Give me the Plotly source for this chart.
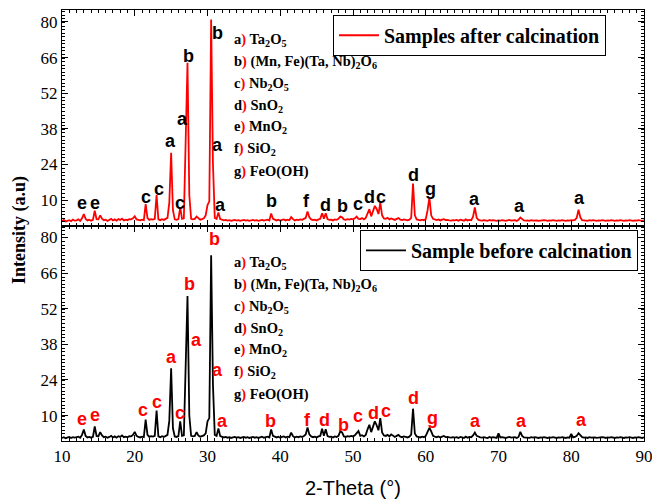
import numpy as np
import plotly.graph_objects as go
from plotly.subplots import make_subplots

# 2-Theta scan positions (step 0.25 deg, 10-90 deg)
two_theta = np.round(np.arange(10.0, 90.0001, 0.25), 2)

# Intensity after calcination, one row per degree (x.00, x.25, x.50, x.75)
after_calcination = [
    1.8, 2.2, 1.6, 2.0,   # 10
    2.1, 1.7, 2.3, 1.9,   # 11
    2.0, 2.4, 1.8, 2.8,   # 12
    4.5, 2.6, 2.0, 2.3,   # 13
    1.9, 2.2, 5.8, 2.5,   # 14
    2.4, 4.0, 2.7, 2.1,   # 15
    2.3, 1.8, 2.2, 2.6,   # 16
    2.0, 2.4, 1.9, 2.5,   # 17
    2.2, 2.7, 2.0, 2.3,   # 18
    2.1, 2.5, 2.4, 2.8,   # 19
    3.6, 2.4, 2.2, 2.0,   # 20
    2.3, 2.1, 8.4, 2.9,   # 21
    2.2, 2.5, 2.3, 2.6,   # 22
    12.0, 2.4, 2.1, 2.5,  # 23
    2.2, 2.6, 3.0, 9.0,   # 24
    28.6, 6.0, 2.4, 2.2,  # 25
    2.5, 7.1, 2.6, 2.8,   # 26
    40.0, 64.0, 12.0, 2.6,  # 27
    2.4, 2.6, 3.5, 2.7,   # 28
    2.3, 2.5, 2.8, 4.0,   # 29
    8.0, 9.5, 81.0, 24.0,  # 30
    3.0, 2.6, 5.1, 2.5,   # 31
    2.3, 2.0, 2.2, 1.9,   # 32
    2.1, 1.8, 2.0, 2.2,   # 33
    1.9, 2.1, 1.8, 2.0,   # 34
    2.2, 1.9, 2.1, 1.8,   # 35
    2.0, 2.2, 1.9, 2.1,   # 36
    1.8, 2.0, 2.2, 1.9,   # 37
    2.1, 2.3, 2.0, 4.7,   # 38
    2.6, 2.2, 2.0, 2.3,   # 39
    1.9, 2.2, 2.4, 2.0,   # 40
    2.3, 2.1, 3.3, 2.5,   # 41
    2.0, 2.3, 2.1, 2.4,   # 42
    2.2, 2.6, 3.0, 5.5,   # 43
    3.2, 2.4, 2.1, 2.3,   # 44
    2.0, 2.4, 2.6, 4.8,   # 45
    2.7, 4.8, 2.5, 2.2,   # 46
    2.3, 2.0, 2.4, 2.2,   # 47
    2.6, 3.5, 3.2, 2.4,   # 48
    2.2, 2.5, 2.3, 2.6,   # 49
    2.4, 2.8, 3.5, 2.6,   # 50
    2.5, 2.9, 2.4, 3.0,   # 51
    5.0, 6.4, 3.6, 5.8,   # 52
    7.7, 6.5, 4.5, 9.0,   # 53
    4.0, 2.8, 2.6, 3.0,   # 54
    2.4, 2.8, 2.5, 2.2,   # 55
    2.6, 2.9, 2.3, 2.1,   # 56
    2.4, 2.2, 2.0, 2.3,   # 57
    3.0, 16.5, 4.0, 2.4,  # 58
    2.2, 2.0, 2.3, 2.1,   # 59
    2.5, 6.0, 11.0, 4.0,  # 60
    2.6, 2.3, 2.1, 2.4,   # 61
    2.0, 2.3, 2.5, 2.1,   # 62
    2.2, 2.0, 1.9, 2.1,   # 63
    2.0, 2.2, 1.9, 2.3,   # 64
    2.1, 1.9, 2.4, 2.0,   # 65
    2.2, 2.1, 3.5, 7.1,   # 66
    3.0, 2.2, 2.0, 1.9,   # 67
    2.1, 2.0, 1.8, 2.2,   # 68
    1.9, 2.1, 2.0, 1.8,   # 69
    2.0, 1.9, 2.1, 2.0,   # 70
    1.8, 2.0, 2.2, 1.9,   # 71
    2.0, 2.1, 1.8, 2.2,   # 72
    3.1, 2.4, 2.0, 1.9,   # 73
    2.0, 1.8, 2.1, 1.9,   # 74
    2.1, 2.0, 1.8, 2.0,   # 75
    1.9, 2.1, 2.0, 1.8,   # 76
    2.0, 1.9, 2.1, 2.0,   # 77
    1.8, 2.0, 1.9, 2.1,   # 78
    2.0, 1.8, 2.0, 1.9,   # 79
    2.1, 2.0, 2.2, 3.0,   # 80
    6.2, 3.2, 2.1, 1.9,   # 81
    2.0, 1.8, 2.1, 1.9,   # 82
    2.1, 2.0, 1.8, 2.0,   # 83
    1.9, 2.1, 2.0, 1.8,   # 84
    2.0, 1.9, 2.1, 2.0,   # 85
    1.8, 2.0, 1.9, 2.1,   # 86
    2.0, 1.8, 2.0, 1.9,   # 87
    2.1, 2.0, 1.8, 2.0,   # 88
    1.9, 2.1, 2.0, 1.8,   # 89
    2.0,                  # 90
]

# Intensity before calcination
before_calcination = [
    1.2, 1.5, 1.1, 1.4,   # 10
    1.6, 1.2, 1.5, 1.3,   # 11
    1.4, 1.7, 1.3, 2.4,   # 12
    4.5, 2.0, 1.4, 1.6,   # 13
    1.3, 1.6, 5.7, 2.0,   # 14
    1.8, 3.5, 2.2, 1.5,   # 15
    1.7, 1.3, 1.6, 2.0,   # 16
    1.4, 1.8, 1.3, 1.9,   # 17
    1.6, 2.2, 1.5, 1.7,   # 18
    1.5, 1.9, 1.8, 2.4,   # 19
    3.6, 2.0, 1.6, 1.4,   # 20
    1.7, 1.5, 8.4, 2.4,   # 21
    1.6, 1.9, 1.7, 2.0,   # 22
    12.0, 1.8, 1.5, 1.9,  # 23
    1.6, 2.0, 2.4, 8.0,   # 24
    28.6, 5.0, 1.8, 1.6,  # 25
    1.9, 7.7, 2.0, 2.2,   # 26
    34.4, 57.0, 10.0, 2.0,  # 27
    1.8, 2.0, 3.5, 2.1,   # 28
    1.7, 1.9, 2.2, 3.0,   # 29
    7.7, 9.0, 73.0, 22.0,  # 30
    2.4, 2.0, 4.9, 1.9,   # 31
    1.7, 1.4, 1.6, 1.3,   # 32
    1.5, 1.2, 1.4, 1.6,   # 33
    1.3, 1.5, 1.2, 1.4,   # 34
    1.6, 1.3, 1.5, 1.2,   # 35
    1.4, 1.6, 1.3, 1.5,   # 36
    1.2, 1.4, 1.7, 1.3,   # 37
    1.5, 1.7, 1.4, 4.5,   # 38
    2.0, 1.6, 1.4, 1.7,   # 39
    1.3, 1.6, 1.8, 1.4,   # 40
    1.7, 1.5, 3.3, 1.9,   # 41
    1.4, 1.7, 1.5, 1.8,   # 42
    1.6, 2.0, 2.6, 5.3,   # 43
    2.6, 1.8, 1.5, 1.7,   # 44
    1.4, 1.8, 2.0, 4.8,   # 45
    2.1, 4.6, 1.9, 1.6,   # 46
    1.7, 1.4, 1.8, 1.6,   # 47
    2.0, 3.8, 3.4, 1.8,   # 48
    1.6, 1.9, 1.7, 2.0,   # 49
    1.8, 2.2, 3.2, 3.9,   # 50
    2.0, 2.3, 1.8, 2.4,   # 51
    4.6, 6.4, 3.5, 5.5,   # 52
    7.7, 6.2, 4.2, 9.0,   # 53
    3.4, 2.2, 2.0, 2.4,   # 54
    1.8, 2.6, 1.9, 1.6,   # 55
    2.0, 2.4, 1.7, 1.5,   # 56
    1.8, 1.6, 1.4, 1.7,   # 57
    2.5, 12.7, 3.0, 1.8,  # 58
    1.6, 1.4, 1.7, 1.5,   # 59
    2.0, 3.5, 5.2, 3.8,   # 60
    2.0, 1.7, 1.5, 1.8,   # 61
    1.4, 1.7, 2.0, 1.5,   # 62
    1.6, 1.4, 1.3, 1.5,   # 63
    1.3, 1.5, 1.2, 1.6,   # 64
    1.4, 1.2, 1.7, 1.3,   # 65
    1.6, 1.5, 2.2, 3.3,   # 66
    2.0, 1.6, 1.4, 1.3,   # 67
    1.5, 1.3, 1.2, 1.6,   # 68
    1.3, 1.5, 1.4, 1.2,   # 69
    3.0, 1.4, 1.5, 1.3,   # 70
    1.2, 1.4, 1.6, 1.3,   # 71
    1.4, 1.5, 1.2, 1.6,   # 72
    3.6, 2.0, 1.4, 1.3,   # 73
    1.4, 1.2, 1.5, 1.3,   # 74
    1.5, 1.4, 1.2, 1.4,   # 75
    1.3, 1.5, 1.4, 1.2,   # 76
    1.4, 1.3, 1.5, 1.4,   # 77
    1.2, 1.4, 1.3, 1.5,   # 78
    1.4, 1.2, 1.4, 1.3,   # 79
    2.8, 1.4, 1.6, 2.0,   # 80
    3.1, 2.2, 1.5, 1.3,   # 81
    1.4, 1.2, 1.5, 1.3,   # 82
    1.5, 1.4, 1.2, 1.4,   # 83
    1.3, 1.5, 1.4, 1.2,   # 84
    1.4, 1.3, 1.5, 1.4,   # 85
    1.2, 1.4, 1.3, 1.5,   # 86
    1.4, 1.2, 1.4, 1.3,   # 87
    1.5, 1.4, 1.2, 1.4,   # 88
    1.3, 1.5, 1.4, 1.2,   # 89
    1.4,                  # 90
]

# Phase identification labels placed over the peaks
top_label_x = [12.8, 14.5, 21.6, 23.4, 24.9, 26.2, 26.6, 27.4, 31.4, 31.4, 31.8,
               38.8, 43.6, 46.2, 48.5, 50.7, 52.3, 53.9, 58.3, 60.7, 66.7, 72.9, 81.1]
top_label_y = [9.0, 9.0, 11.4, 14.3, 33.2, 9.0, 41.7, 66.8, 75.7, 31.6, 8.1,
               9.7, 9.7, 8.1, 7.7, 8.6, 11.2, 11.2, 19.9, 14.3, 10.3, 7.7, 10.7]
top_label_text = ["e", "e", "c", "c", "a", "c", "a", "b", "b", "a", "a",
                  "b", "f", "d", "b", "c", "d", "c", "d", "g", "a", "a", "a"]

bottom_label_x = [12.8, 14.5, 21.2, 23.1, 25.0, 26.2, 28.5, 27.5, 30.9, 31.4, 32.0,
                  38.6, 43.7, 46.1, 48.7, 50.7, 52.8, 54.5, 58.3, 60.9, 66.8, 73.1, 81.4]
bottom_label_y = [8.7, 10.3, 12.3, 15.5, 33.1, 11.0, 39.6, 61.8, 79.4, 27.9, 7.7,
                  7.7, 8.4, 8.4, 6.4, 9.7, 11.2, 11.6, 16.9, 9.1, 7.7, 7.7, 8.4]
bottom_label_text = ["e", "e", "c", "c", "a", "c", "a", "b", "b", "a", "a",
                     "b", "f", "d", "b", "c", "d", "c", "d", "g", "a", "a", "a"]

# Phase key
phase_letters = ["a", "b", "c", "d", "e", "f", "g"]
phase_names = ["Ta<sub>2</sub>O<sub>5</sub>",
               "(Mn, Fe)(Ta, Nb)<sub>2</sub>O<sub>6</sub>",
               "Nb<sub>2</sub>O<sub>5</sub>",
               "SnO<sub>2</sub>",
               "MnO<sub>2</sub>",
               "SiO<sub>2</sub>",
               "FeO(OH)"]

x_ticks = [10, 20, 30, 40, 50, 60, 70, 80, 90]
y_ticks = [10, 24, 38, 52, 66, 80]

SERIF = "Liberation Serif"
SANS = "Liberation Sans"

fig = make_subplots(rows=2, cols=1, shared_xaxes=True, vertical_spacing=0)

fig.add_trace(go.Scatter(x=two_theta, y=after_calcination, mode="lines",
                         line=dict(color="#ff0000", width=1.8), showlegend=True,
                         name="<b>Samples after calcination</b>", legend="legend"),
              row=1, col=1)
fig.add_trace(go.Scatter(x=two_theta, y=before_calcination, mode="lines",
                         line=dict(color="#000000", width=1.8), showlegend=True,
                         name="<b>Sample before calcination</b>", legend="legend2"),
              row=2, col=1)

annotations = []
for x, y, t in zip(top_label_x, top_label_y, top_label_text):
    annotations.append(dict(x=x, y=y, xref="x", yref="y", text=f"<b>{t}</b>",
                            showarrow=False,
                            font=dict(family=SANS, size=18, color="black")))
for x, y, t in zip(bottom_label_x, bottom_label_y, bottom_label_text):
    annotations.append(dict(x=x, y=y, xref="x2", yref="y2", text=f"<b>{t}</b>",
                            showarrow=False,
                            font=dict(family=SANS, size=18, color="#ff0000")))

# Phase key text blocks, one per panel
key_x = 0.292
key_tops = [0.9304, 0.4130]
key_step = 0.0507
for top in key_tops:
    for i, (letter, name) in enumerate(zip(phase_letters, phase_names)):
        annotations.append(dict(
            x=key_x, y=top - i * key_step, xref="paper", yref="paper",
            xanchor="left", yanchor="middle", showarrow=False,
            text=f"<b>{letter}<span style='color:#ff0000'>)</span> {name}</b>",
            font=dict(family=SERIF, size=14.5, color="black")))

annotations.append(dict(x=-0.072, y=0.49, xref="paper", yref="paper", textangle=-90,
                        xanchor="center", yanchor="middle",
                        text="<b>Intensity (a.u)</b>", showarrow=False,
                        font=dict(family=SERIF, size=18, color="black")))
annotations.append(dict(x=0.5, y=-0.11, xref="paper", yref="paper",
                        xanchor="center", yanchor="middle",
                        text="2-Theta (°)", showarrow=False,
                        font=dict(family=SANS, size=20, color="black")))

axis_common = dict(showline=True, linecolor="black", linewidth=1, mirror="allticks",
                   ticks="inside", tickcolor="black", showgrid=False, zeroline=False,
                   automargin=False)

fig.update_xaxes(range=[10, 90], tickvals=x_ticks, ticklen=6, ticklabeloverflow="allow",
                 minor=dict(dtick=1, tick0=10, ticks="inside", ticklen=3, tickcolor="black"),
                 tickfont=dict(family=SERIF, size=17, color="black"),
                 **axis_common)
fig.update_xaxes(showticklabels=False, row=1, col=1)
fig.update_yaxes(range=[0, 84.7], tickvals=y_ticks, ticklen=6,
                 minor=dict(dtick=1.4, tick0=0, ticks="inside", ticklen=3, tickcolor="black"),
                 tickfont=dict(family=SERIF, size=17, color="black"),
                 **axis_common)

legend_style = dict(xanchor="left", yanchor="top", bordercolor="black", borderwidth=1,
                    bgcolor="white", itemwidth=40, tracegroupgap=0,
                    font=dict(family=SERIF, size=20, color="black"))
fig.update_layout(
    width=652, height=502,
    margin=dict(l=62, r=8, t=10, b=61, autoexpand=False),
    paper_bgcolor="white", plot_bgcolor="white",
    showlegend=True,
    annotations=annotations,
    legend=dict(x=0.4656, y=0.989, **legend_style),
    legend2=dict(x=0.512, y=0.49, **legend_style),
)

fig.write_html("out.html")
